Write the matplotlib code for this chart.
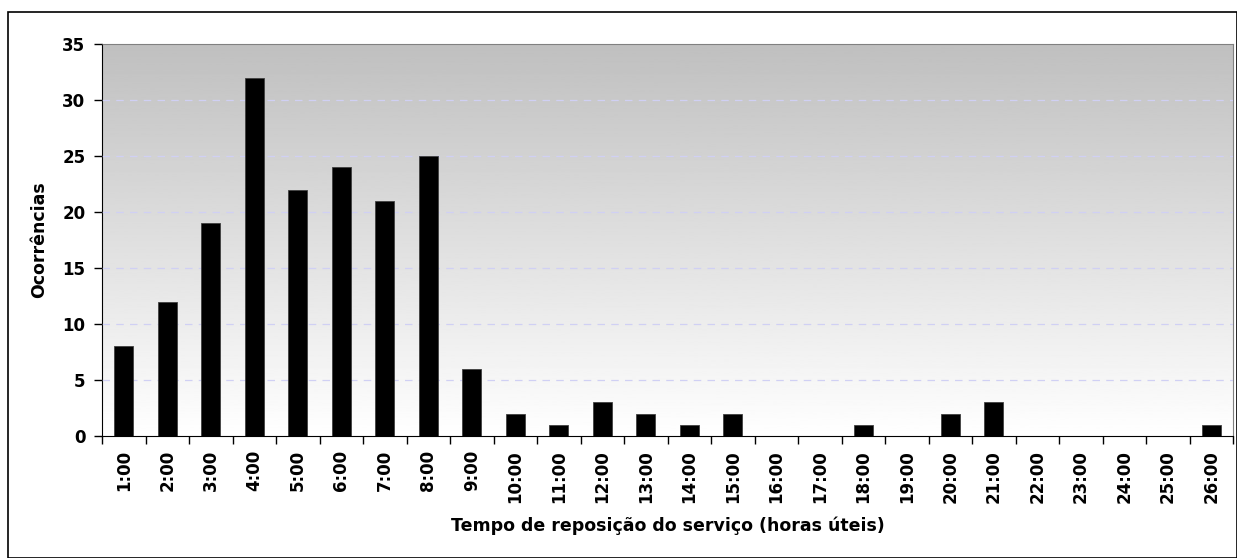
import numpy as np
import matplotlib
matplotlib.use("Agg")
import matplotlib.pyplot as plt
from matplotlib.patches import Rectangle

# data
categories = [f"{h}:00" for h in range(1, 27)]
occurrences = [8, 12, 19, 32, 22, 24, 21, 25, 6, 2, 1, 3, 2, 1, 2, 0, 0, 1, 0, 2, 3, 0, 0, 0, 0, 1]
y_ticks = [0, 5, 10, 15, 20, 25, 30, 35]

plt.rcParams["font.family"] = ["DejaVu Sans"]

fig = plt.figure(figsize=(12.37, 5.58), dpi=100)
ax = fig.add_axes([102 / 1237, 1 - 436 / 558, (1233 - 102) / 1237, (436 - 44) / 558])

# outer chart border
fig.patches.append(Rectangle((8 / 1237, 0), 1 - 8 / 1237 - 0.5 / 1237, 1 - 12 / 558,
                             transform=fig.transFigure, fill=False,
                             edgecolor="black", linewidth=1.2))

# gray (top) to white (bottom) gradient plot area
grad = np.linspace(1.0, 0.75, 256).reshape(-1, 1)
ax.imshow(grad, cmap="gray", vmin=0, vmax=1, aspect="auto", origin="lower",
          extent=[0, 1, 0, 1], transform=ax.transAxes, zorder=0)

x = np.arange(len(categories))
ax.bar(x, occurrences, width=0.44, color="black", edgecolor="#404040",
       linewidth=0.6, zorder=3)

ax.set_xlim(-0.5, len(categories) - 0.5)
ax.set_ylim(0, 35)
ax.set_yticks(y_ticks)
ax.set_yticklabels([str(v) for v in y_ticks], fontsize=12, fontweight="bold")
ax.yaxis.grid(True, color="#d0d0f4", linestyle=(0, (6, 5)), linewidth=0.9, zorder=1)
ax.set_axisbelow(False)
# no gridline over the 0 and top borders
gl = ax.yaxis.get_gridlines()
gl[0].set_visible(False)
gl[-1].set_visible(False)

# category ticks sit between bars, labels centered on bars
ax.set_xticks(np.arange(len(categories) + 1) - 0.5)
ax.set_xticklabels([])
ax.set_xticks(x, minor=True)
ax.set_xticklabels(categories, minor=True, rotation=90, fontsize=12, fontweight="bold")
ax.tick_params(axis="x", which="minor", length=0, pad=10)
ax.tick_params(axis="x", which="major", length=6, width=1, color="black")
ax.tick_params(axis="y", length=6, width=1, color="black", pad=6)

for side in ["top", "right"]:
    ax.spines[side].set_color("#808080")
for side in ["left", "bottom"]:
    ax.spines[side].set_color("black")

ax.set_xlabel("Tempo de reposição do serviço (horas úteis)", fontsize=12.5,
              fontweight="bold", labelpad=10)
ax.set_ylabel("Ocorrências", fontsize=12.5, fontweight="bold", labelpad=10)

fig.savefig("out.png", dpi=100, facecolor="white")
